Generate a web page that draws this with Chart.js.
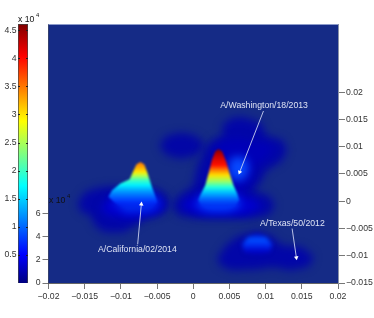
<!DOCTYPE html>
<html>
<head>
<meta charset="utf-8">
<script src="https://cdn.jsdelivr.net/npm/chart.js@4"></script>
<style>
html, body { margin: 0; padding: 0; background: #fff; overflow: hidden; }
canvas { position: absolute; left: 0; top: 0; filter: blur(0.3px); }
</style>
</head>
<body>
<canvas id="mainChart" width="374" height="318"></canvas>
<canvas id="barChart" width="30" height="318"></canvas>
<script>
// tick values + labels
const xTicks = [-0.02, -0.015, -0.01, -0.005, 0, 0.005, 0.01, 0.015, 0.02];
const xTickLabels = ["\u22120.02", "\u22120.015", "\u22120.01", "\u22120.005", "0", "0.005", "0.01", "0.015", "0.02"];
const yTicks = [-0.015, -0.01, -0.005, 0, 0.005, 0.01, 0.015, 0.02];
const yTickLabels = ["\u22120.015", "\u22120.01", "\u22120.005", "0", "0.005", "0.01", "0.015", "0.02"];
const zTicks = [0, 2, 4, 6];
const barTicks = [0.5, 1, 1.5, 2, 2.5, 3, 3.5, 4, 4.5];
const barTickLabels = ["0.5", "1", "1.5", "2", "2.5", "3", "3.5", "4", "4.5"];
const barTop = 4.625;

// jet colour bar, bottom to top
const jetPos = [0, 0.11, 0.375, 0.625, 0.875, 1];
const jetColors = ["#00007f", "#0000ff", "#00ffff", "#ffff00", "#ff0000", "#7f0000"];

// outlines, [x, y]
const californiaOuter = [[-0.0160,-0.00037],[-0.0149,0.00175],[-0.01283,0.00257],[-0.01103,0.00276],[-0.00552,0.00248],[-0.00372,0.00129],[-0.00331,-0.00074],[-0.00428,-0.00221],[-0.00648,-0.00313],[-0.0080,-0.00441],[-0.00966,-0.0057],[-0.01228,-0.0057],[-0.01366,-0.00441],[-0.01414,-0.00257],[-0.01545,-0.00202]];
const centralOuter = [[0.0069,0.01544],[0.00938,0.01434],[0.01007,0.01195],[0.01228,0.01121],[0.01297,0.00938],[0.01214,0.00726],[0.01007,0.0057],[0.00938,0.00368],[0.00814,0.00184],[0.01034,0.0011],[0.01131,-0.00074],[0.01034,-0.00257],[0.00786,-0.00313],[0,-0.00303],[-0.00207,-0.00257],[-0.0029,-0.00074],[-0.00207,0.00092],[0,0.00276],[0.00055,0.00625],[0.00166,0.00974],[0.00262,0.01121],[0.00414,0.01195],[0.00397,0.01379],[0.00524,0.01526]];
const leftLobe = [[-0.00166,0.01259],[0.00041,0.01195],[0.00166,0.0102],[0.00041,0.00846],[-0.00166,0.00781],[-0.00372,0.00846],[-0.00469,0.0102],[-0.00372,0.01195]];
const texasOuter = [[0.00331,-0.01048],[0.00455,-0.00809],[0.00621,-0.00643],[0.00883,-0.00551],[0.0109,-0.00643],[0.01214,-0.00809],[0.01503,-0.00846],[0.01669,-0.01029],[0.01586,-0.01204],[0.01338,-0.01268],[0.01103,-0.01204],[0.00883,-0.0125],[0.00524,-0.01268],[0.00372,-0.01176]];
const upperMid = [[0.00262,0.00938],[0.0040,0.01103],[0.00648,0.01158],[0.00814,0.01085],[0.00979,0.01085],[0.01117,0.00974],[0.01007,0.0079],[0.00828,0.00607],[0.00786,0.00313],[0.00593,0.00129],[0.00428,0.00533]];
const washingtonGlow = [[0.00621,0.00827],[0.00731,0.00772],[0.00772,0.00607],[0.00731,0.00441],[0.00621,0.00368],[0.0051,0.00441],[0.00483,0.00607],[0.0051,0.00772]];
const centralMid = [[-0.0011,0.00018],[0.00166,0.00165],[0.00579,0.00165],[0.00855,0.00018],[0.00952,-0.0011],[0.00717,-0.00257],[0.00097,-0.00257],[-0.00152,-0.00129]];
const centralBase = [[0.00097,0.00074],[0.00345,0.00165],[0.00607,0.00074],[0.00662,-0.00092],[0.00483,-0.00184],[0.00207,-0.00184],[0.00041,-0.00092]];
const californiaMid = [[-0.01283,-0.00129],[-0.01117,0.0011],[-0.00524,0.0011],[-0.00386,-0.00074],[-0.00483,-0.00221],[-0.00869,-0.00313],[-0.01172,-0.00257]];
const californiaBase = [[-0.01117,0.00018],[-0.00938,0.00147],[-0.00593,0.00147],[-0.00455,-0.00037],[-0.00593,-0.00184],[-0.00938,-0.00202]];

// peak silhouettes and their height colours
const centralPeak = [[0.00349,0.00956],[0.0040,0.0091],[0.00455,0.00722],[0.0051,0.00478],[0.00556,0.00294],[0.00607,0.00142],[0.00634,0.00018],[0.00566,-0.00092],[0.00455,-0.00147],[0.00331,-0.00165],[0.00221,-0.00147],[0.00124,-0.00092],[0.00069,0.00018],[0.00097,0.0011],[0.00166,0.00294],[0.00211,0.00509],[0.00258,0.00754],[0.00303,0.0091]];
const centralStopY = [0.00956, 0.00846, 0.00662, 0.0057, 0.00478, 0.00368, 0.00257, 0.00165, 0.00055, -0.00074, -0.00165];
const centralStopColor = ["#800000", "#c00000", "#ff1000", "#ff8000", "#ffe000", "#a0ff60", "#20ffe0", "#00c0ff", "#0070ff", "rgba(0,48,240,0.7)", "rgba(0,48,240,0)"];
const californiaPeak = [[-0.00731,0.00717],[-0.00676,0.00675],[-0.0063,0.00509],[-0.00579,0.00294],[-0.00538,0.00142],[-0.00497,-0.00018],[-0.00593,-0.00129],[-0.0080,-0.00165],[-0.00979,-0.0011],[-0.0109,-0.00018],[-0.01172,0.00083],[-0.01121,0.00202],[-0.01007,0.00325],[-0.00879,0.00404],[-0.00832,0.00539],[-0.00786,0.00675]];
const californiaStopY = [0.00717, 0.00662, 0.00533, 0.00478, 0.00386, 0.00294, 0.00202, 0.00110, 0.00018, -0.00074, -0.00165];
const californiaStopColor = ["#ff7a00", "#ff9000", "#ffe800", "#c0ff40", "#40ffc0", "#00f0ff", "#00a8ff", "#0070ff", "#0040ff", "rgba(0,32,240,0.6)", "rgba(0,32,224,0)"];
const texasHump = [[0.00676,-0.0079],[0.00759,-0.00653],[0.00883,-0.00597],[0.01007,-0.00653],[0.0109,-0.0079],[0.01062,-0.00938],[0.00883,-0.00993],[0.00703,-0.00938]];
const texasStopY = [-0.00597, -0.0069, -0.0079, -0.0094, -0.00993];
const texasStopColor = ["#0000c0", "#0050ff", "#0034f4", "rgba(0,0,208,0.7)", "rgba(0,0,208,0)"];

// annotations
const labelTexts = ["A/Washington/18/2013", "A/California/02/2014", "A/Texas/50/2012"];
const labelX = [0.00979, -0.00772, 0.0137];
const labelY = [0.01746, -0.00895, -0.00417];
const washingtonArrow = [[0.0097,0.01654],[0.00641,0.00533]];
const californiaArrow = [[-0.00768,-0.0079],[-0.00717,-0.00055]];
const texasArrow = [[0.01366,-0.00502],[0.01425,-0.01035]];

const FONT = "'Liberation Sans', Arial, sans-serif";
const tickFont = { family: FONT, size: 8.7 };

function toPoints(pairs) {
    return pairs.map(p => ({ x: p[0], y: p[1] }));
}

function shape(pairs, color, blur) {
    return {
        data: toPoints(pairs.concat([pairs[0]])),
        showLine: true,
        fill: "shape",
        backgroundColor: color,
        borderWidth: 0,
        pointRadius: 0,
        blur: blur
    };
}

function heightFill(stopY, stopColor) {
    return function (c) {
        const chart = c.chart;
        if (!chart.chartArea) return stopColor[0];
        const yScale = chart.scales.y;
        const top = yScale.getPixelForValue(stopY[0]);
        const bottom = yScale.getPixelForValue(stopY[stopY.length - 1]);
        const g = chart.ctx.createLinearGradient(0, top, 0, bottom);
        stopY.forEach((v, i) => {
            g.addColorStop((yScale.getPixelForValue(v) - top) / (bottom - top), stopColor[i]);
        });
        return g;
    };
}

function arrow(pairs, angle) {
    return {
        data: toPoints(pairs),
        showLine: true,
        fill: false,
        borderColor: "#c8cfee",
        borderWidth: 0.9,
        pointRadius: [0, 2.6],
        pointStyle: "triangle",
        rotation: [0, angle],
        pointBackgroundColor: "#ffffff",
        pointBorderWidth: 0,
        blur: 0
    };
}

function drawPower(ctx, x, y) {
    ctx.save();
    ctx.fillStyle = "#111";
    ctx.textAlign = "left";
    ctx.textBaseline = "middle";
    ctx.font = "8.7px " + FONT;
    ctx.fillText("x 10", x, y);
    ctx.font = "5.8px " + FONT;
    ctx.fillText("4", x + 18, y - 5);
    ctx.restore();
}

const layers = [
    shape(leftLobe, "#0206a6", 4),
    shape(californiaOuter, "#0206a8", 4),
    shape(centralOuter, "#0206a8", 4),
    shape(texasOuter, "#0206a8", 4),
    shape(upperMid, "#0000b8", 4),
    shape(washingtonGlow, "#0648ff", 4),
    shape(centralMid, "#0000d0", 4),
    shape(californiaMid, "#0000d0", 4),
    shape(centralBase, "#0040ff", 4),
    shape(californiaBase, "#0030f0", 4),
    shape(centralPeak, heightFill(centralStopY, centralStopColor), 1),
    shape(californiaPeak, heightFill(californiaStopY, californiaStopColor), 1.2),
    shape(texasHump, heightFill(texasStopY, texasStopColor), 2),
    arrow(washingtonArrow, 201),
    arrow(californiaArrow, 5),
    arrow(texasArrow, 172)
];
layers.forEach((d, i) => { d.order = layers.length - i; });

function layerFilter(chart, index) {
    const b = chart.data.datasets[index].blur;
    return b ? "blur(" + b + "px)" : "none";
}

const surfacePlugin = {
    id: "surface",
    beforeDatasetsDraw(chart) {
        const { ctx, chartArea: a } = chart;
        ctx.save();
        ctx.fillStyle = "#152b86";
        ctx.fillRect(a.left, a.top, a.right - a.left, a.bottom - a.top);
        ctx.restore();
        const metas = chart.getSortedVisibleDatasetMetas();
        const first = metas[metas.length - 1];
        ctx.filter = layerFilter(chart, first.index);
    },
    afterDatasetDraw(chart, args) {
        // filler paints ahead of this hook, so set the blur for the next layer
        const metas = chart.getSortedVisibleDatasetMetas();
        const pos = metas.findIndex(m => m.index === args.index);
        chart.ctx.filter = pos > 0 ? layerFilter(chart, metas[pos - 1].index) : "none";
    },
    afterDatasetsDraw(chart) {
        const { ctx, chartArea: a, scales } = chart;
        ctx.filter = "none";
        ctx.save();
        ctx.strokeStyle = "#8c9bcb";
        ctx.lineWidth = 1;
        ctx.beginPath();
        ctx.moveTo(a.left, a.top + 0.5);
        ctx.lineTo(a.right, a.top + 0.5);
        ctx.stroke();
        ctx.fillStyle = "#dde2f4";
        ctx.font = "8.7px " + FONT;
        ctx.textAlign = "center";
        ctx.textBaseline = "middle";
        labelTexts.forEach((t, i) => {
            ctx.fillText(t, scales.x.getPixelForValue(labelX[i]), scales.y.getPixelForValue(labelY[i]));
        });
        ctx.restore();
        drawPower(ctx, 49, 201);
        drawPower(ctx, 18, 20);
    }
};

new Chart(document.getElementById("mainChart"), {
    type: "scatter",
    data: { datasets: layers },
    plugins: [surfacePlugin],
    options: {
        responsive: false,
        animation: false,
        layout: { padding: { top: 24, left: 0, right: 0, bottom: 0 } },
        plugins: { legend: { display: false }, tooltip: { enabled: false } },
        scales: {
            x: {
                type: "linear",
                min: -0.02,
                max: 0.02,
                afterBuildTicks: s => { s.ticks = xTicks.map(v => ({ value: v })); },
                afterFit: s => { s.height = 35; },
                border: { color: "#666" },
                grid: { drawOnChartArea: false, tickLength: 6, tickColor: "#777" },
                ticks: {
                    autoSkip: false, maxRotation: 0, padding: 2, color: "#333", font: tickFont,
                    callback: (v, i) => xTickLabels[i]
                }
            },
            y: {
                type: "linear",
                position: "right",
                min: -0.015,
                max: 0.0325,
                afterBuildTicks: s => { s.ticks = yTicks.map(v => ({ value: v })); },
                afterFit: s => { s.width = 36; },
                border: { color: "#8a93a8" },
                grid: { drawOnChartArea: false, tickLength: 7, tickColor: "#777" },
                ticks: {
                    autoSkip: false, padding: 1, color: "#333", font: tickFont,
                    callback: (v, i) => yTickLabels[i]
                }
            },
            z: {
                type: "linear",
                position: "left",
                min: 0,
                max: 22.3,
                afterBuildTicks: s => { s.ticks = zTicks.map(v => ({ value: v })); },
                afterFit: s => { s.width = 48.5; },
                border: { color: "#555" },
                grid: { drawOnChartArea: false, tickLength: 6, tickColor: "#777" },
                ticks: { autoSkip: false, padding: 2, color: "#333", font: tickFont }
            }
        }
    }
});

// colour bar as its own small chart
new Chart(document.getElementById("barChart"), {
    type: "bar",
    data: {
        labels: [""],
        datasets: [{
            data: [barTop],
            barPercentage: 1,
            categoryPercentage: 1,
            borderWidth: 1,
            borderColor: "#444",
            backgroundColor(c) {
                const chart = c.chart;
                if (!chart.chartArea) return jetColors[0];
                const g = chart.ctx.createLinearGradient(0, chart.chartArea.bottom, 0, chart.chartArea.top);
                jetPos.forEach((p, i) => g.addColorStop(p, jetColors[i]));
                return g;
            }
        }]
    },
    options: {
        responsive: false,
        animation: false,
        layout: { padding: { top: 24, right: 2, bottom: 35 } },
        plugins: { legend: { display: false }, tooltip: { enabled: false } },
        scales: {
            x: { display: false },
            y: {
                min: 0,
                max: barTop,
                afterBuildTicks: s => { s.ticks = barTicks.map(v => ({ value: v })); },
                afterFit: s => { s.width = 18; },
                border: { display: false, dash: [2, 6, 2] },
                grid: { z: 1, drawTicks: false, color: "#222" },
                ticks: {
                    autoSkip: false, padding: 1.5, color: "#333", font: tickFont,
                    callback: (v, i) => barTickLabels[i]
                }
            }
        }
    }
});
</script>
</body>
</html>
